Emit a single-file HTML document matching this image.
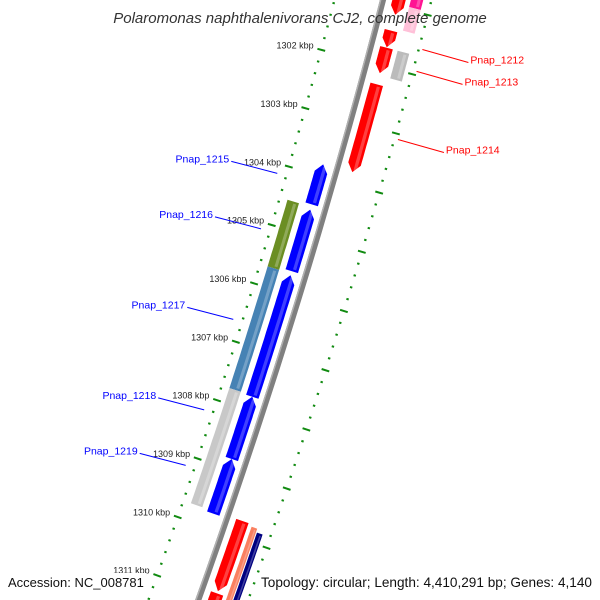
<!DOCTYPE html>
<html><head><meta charset="utf-8"><style>
html,body{margin:0;background:#fff;overflow:hidden;width:600px;height:600px}
svg{display:block;font-family:"Liberation Sans",sans-serif;overflow:hidden}
</style></head><body>
<svg id="map" width="600" height="600" viewBox="0 0 600 600">
<g id="ticks"></g>
<g id="feats"></g>
<g id="labels"></g>
<text x="300" y="23" text-anchor="middle" font-size="15" font-style="italic" fill="#333">Polaromonas naphthalenivorans CJ2, complete genome</text>
<rect x="4" y="573" width="142" height="18" fill="#fff"/>
<text x="8" y="587" font-size="13" fill="#111">Accession: NC_008781</text>
<rect x="256" y="573" width="340" height="18" fill="#fff"/>
<text x="592" y="587" text-anchor="end" font-size="13.6" fill="#111">Topology: circular; Length: 4,410,291 bp; Genes: 4,140</text>
</svg>
<script>
// feature data (kbp)
const featStart = [1300.6,1301.40,1301.69,1302.31,1309.72,1310.95, 1300.5,1300.95,1301.69,1309.76,1309.82, 1303.81,1304.58,1305.70,1307.77,1308.83, 1304.53,1305.67,1307.75];
const featEnd   = [1301.13,1301.68,1302.12,1303.80,1310.91,1311.83, 1300.95,1301.35,1302.16,1311.15,1311.15, 1304.49,1305.63,1307.77,1308.83,1309.76, 1305.67,1307.75,1309.72];
const featBand  = ['o1','o1','o1','o1','o1','o1','o2','o2','o2','o2s','o2n','i1','i1','i1','i1','i1','i2','i2','i2'];
const featColor = ['#ff0000','#ff0000','#ff0000','#ff0000','#ff0000','#ff0000','#ff1493','#ffc0d8','#bbbbbb','#fa8060','#000080','#0000ff','#0000ff','#0000ff','#0000ff','#0000ff','#6b8e23','#4682b4','#c8c8c8'];
const featArrow = ['end','end','end','end','end','end','none','none','none','none','none','start','start','start','start','start','none','none','none'];
const tickKbp = [1301,1302,1303,1304,1305,1306,1307,1308,1309,1310,1311];
const tickLabels = ['1301 kbp','1302 kbp','1303 kbp','1304 kbp','1305 kbp','1306 kbp','1307 kbp','1308 kbp','1309 kbp','1310 kbp','1311 kbp'];
const labelNames = ['Pnap_1212','Pnap_1213','Pnap_1214','Pnap_1215','Pnap_1216','Pnap_1217','Pnap_1218','Pnap_1219'];
const labelKbp = [1301.6,1301.97,1303.12,1304.15,1305.1,1306.65,1308.2,1309.15];
const labelSide = ['out','out','out','in','in','in','in','in'];

const NS='http://www.w3.org/2000/svg';
function sOf(k){return 62+58.8*(k-1302);}
function bx(s){return 383-0.258*s-0.000083*s*s;}
function pt(s,d){const dx=-0.258-0.000166*s;const n=Math.hypot(dx,1);return [bx(s)+d*1/n, s+d*(-dx)/n];}
const bands={o1:[9,22],o2:[27,39],o2s:[26,32],o2n:[33,39],i1:[-21,-8],i2:[-39,-27]};
function el(tag,attrs,parent){const e=document.createElementNS(NS,tag);for(const k in attrs)e.setAttribute(k,attrs[k]);parent.appendChild(e);return e;}
const ticksG=document.getElementById('ticks'),featsG=document.getElementById('feats'),labG=document.getElementById('labels');

function bandPoly(s1,s2,d1,d2,arrow){
  const pts=[],N=20,ah=8;
  let a=s1,b=s2;
  if(arrow==='start')a=Math.min(s1+ah,s2);
  if(arrow==='end')b=Math.max(s2-ah,s1);
  if(arrow==='start')pts.push(pt(s1,(d1+d2)/2));
  for(let i=0;i<=N;i++)pts.push(pt(a+(b-a)*i/N,d2));
  if(arrow==='end')pts.push(pt(s2,(d1+d2)/2));
  for(let i=N;i>=0;i--)pts.push(pt(a+(b-a)*i/N,d1));
  return pts.map(p=>p[0].toFixed(1)+','+p[1].toFixed(1)).join(' ');
}
let bb=el('polygon',{points:bandPoly(-40,640,-3,3,'none'),fill:'#808080'},featsG);


let bbl=el('polygon',{points:bandPoly(-40,640,-3,-1.5,'none'),fill:'#b0b0b0'},featsG);



[-47,47].forEach(function(d){
  for(let k=1300;k<=1312.01;k+=0.2){
    const s=sOf(k);const major=Math.abs(k-Math.round(k))<0.01;
    const h=major?4:1.2;
    const p1=pt(s,d-h),p2=pt(s,d+h);
    const t=el('line',{x1:p1[0],y1:p1[1],x2:p2[0],y2:p2[1],stroke:'#108a10','stroke-width':2},ticksG);
    
    
  }
});
tickKbp.forEach(function(k,i){
  const p=pt(sOf(k),-55);
  const t=el('text',{x:p[0].toFixed(1),y:(p[1]+1).toFixed(1),'text-anchor':'end','font-size':9,fill:'#222'},ticksG);
  t.textContent=tickLabels[i];
  
  
});

featStart.forEach(function(st,i){
  const b=bands[featBand[i]];
  const s1=sOf(st),s2=sOf(featEnd[i]);
  const f=el('polygon',{points:bandPoly(s1,s2,b[0],b[1],featArrow[i]),fill:featColor[i]},featsG);
  
  
  const w=b[1]-b[0];
  const h=el('polygon',{points:bandPoly(s1+2,s2-2,b[0]+w*0.55,b[0]+w*0.8,'none'),fill:'#fff',opacity:0.25},featsG);
  
  
});

labelNames.forEach(function(nm,i){
  const s=sOf(labelKbp[i]);const out=labelSide[i]==='out';
  const p=pt(s,out?47:-47);
  let x1,y1,x2,y2;
  if(out){x1=p[0]+4;y1=p[1]-1;x2=x1+46;y2=y1+13;}else{x1=p[0]-9;y1=p[1]-2;x2=x1-46;y2=y1-12;}
  const ln=el('line',{x1:x1,y1:y1,x2:x2,y2:y2,stroke:out?'#ff0000':'#0000ff','stroke-width':1},labG);
  
  
  const t=el('text',{x:out?x2+2:x2-2,y:y2+1,'text-anchor':out?'start':'end','font-size':10.5,fill:out?'#ff0000':'#0000ff'},labG);
  t.textContent=nm;
  
  
});
</script>
</body></html>
